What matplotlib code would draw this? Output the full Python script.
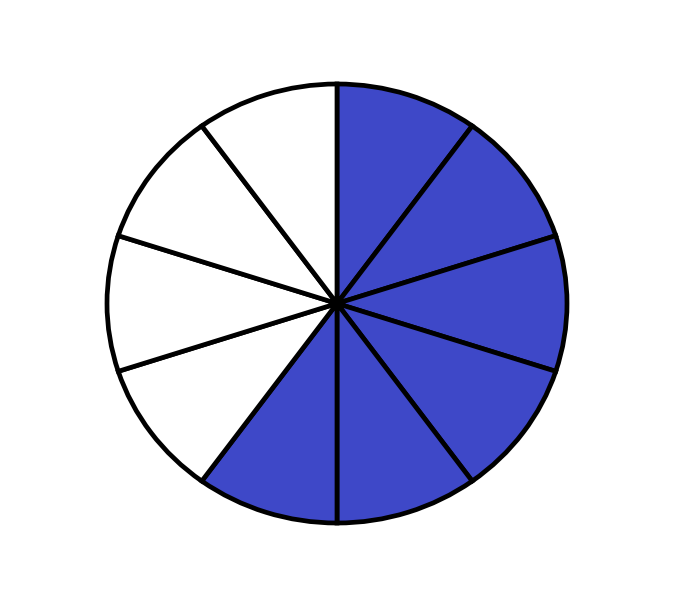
import matplotlib.pyplot as plt

# ten equal parts, six shaded (6/10)
parts = [1] * 10
shaded = [True] * 6 + [False] * 4
blue = '#3e48c8'
colors = [blue if s else 'white' for s in shaded]

fig = plt.figure(figsize=(7, 6.08), dpi=100)
ax = fig.add_axes([107 / 700, (608 - 523) / 608, 460 / 700, 439 / 608])

ax.pie(parts, colors=colors, startangle=90, counterclock=False,
       wedgeprops=dict(edgecolor='black', linewidth=3.4, joinstyle='miter'))
ax.set_aspect('auto')
ax.set_xlim(-1, 1)
ax.set_ylim(-1, 1)
ax.axis('off')
for p in ax.patches:
    p.set_clip_on(False)

fig.savefig('out.png', dpi=100)
